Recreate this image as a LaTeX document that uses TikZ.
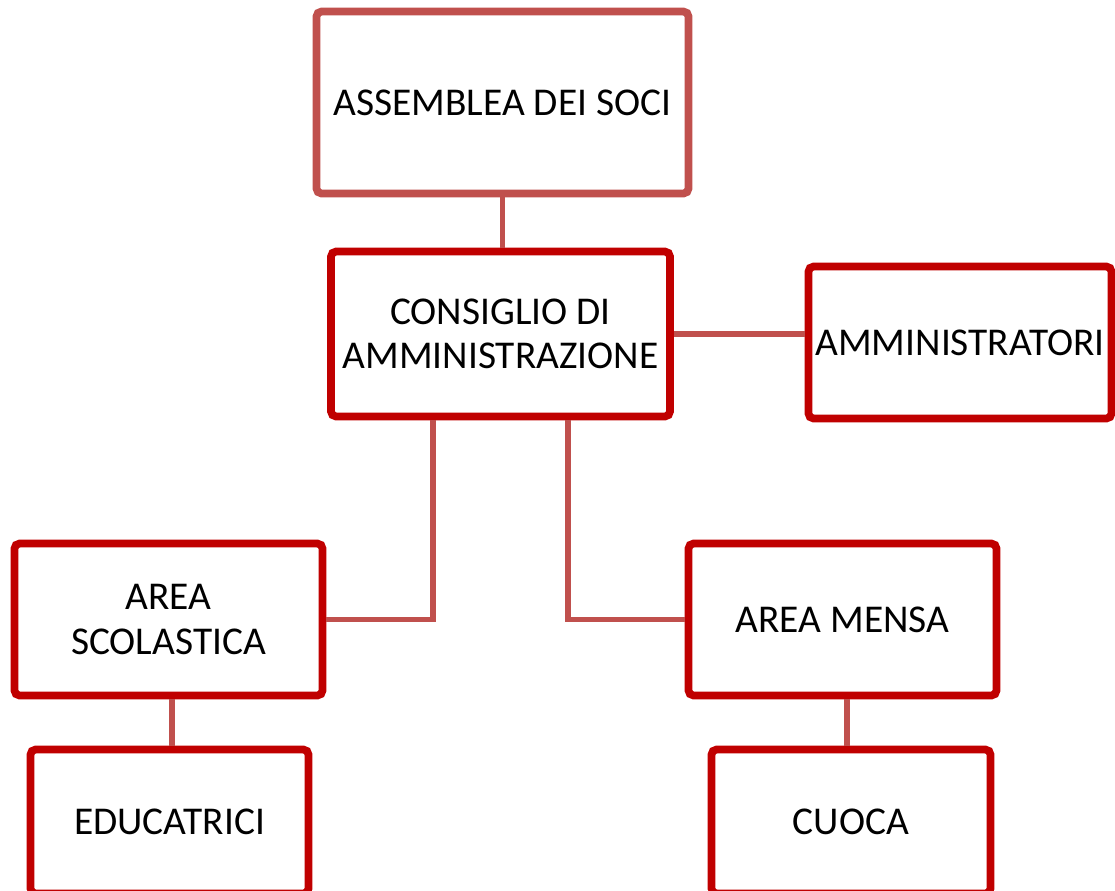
\documentclass[tikz,border=0pt]{standalone}
\usepackage{fontspec}
\setmainfont{Carlito}
\usepackage{tikz}
\usetikzlibrary{positioning}

\definecolor{boxRed}{HTML}{C00000}
\definecolor{lineRed}{HTML}{C0504D}

\begin{document}
\begin{tikzpicture}[
        x=0.01cm, y=-0.01cm,
        orgbox/.style={
          rectangle,
          draw=boxRed,
          line width=2.2pt,
          fill=white,
          align=center,
          rounded corners=1.5pt,
          font=\fontsize{11.2}{12.6}\selectfont
        },
        link/.style={lineRed, line width=1.6pt}
    ]
    \useasboundingbox (0,0) rectangle (1115,890);

    % Define the nodes
    \node[orgbox, draw=lineRed, minimum width=3.72cm, minimum height=1.82cm] (assemblea) at (502.5,102.5) {ASSEMBLEA DEI SOCI};
    \node[orgbox, minimum width=3.38cm, minimum height=1.65cm] (consiglio) at (500.5,334) {CONSIGLIO DI\\AMMINISTRAZIONE};
    \node[orgbox, inner xsep=1pt, minimum width=3.03cm, minimum height=1.52cm] (amministratori) at (960,342.5) {AMMINISTRATORI};
    \node[orgbox, minimum width=3.08cm, minimum height=1.52cm] (areaScolastica) at (168.5,619.5) {AREA\\SCOLASTICA};
    \node[orgbox, minimum width=3.08cm, minimum height=1.52cm] (areaMensa) at (842.5,619.5) {AREA MENSA};
    \node[orgbox, minimum width=2.78cm, minimum height=1.44cm] (educatrici) at (169.5,821.5) {EDUCATRICI};
    \node[orgbox, minimum width=2.79cm, minimum height=1.44cm] (cuoca) at (851,821.5) {CUOCA};

    % Connect the nodes
    \draw[link] (assemblea.south) -- (assemblea.south |- consiglio.north);
    \draw[link] (consiglio.east) -- (consiglio.east -| amministratori.west);
    \draw[link] ([xshift=-0.675cm]consiglio.south) |- (areaScolastica.east);
    \draw[link] ([xshift=0.675cm]consiglio.south) |- (areaMensa.west);
    \draw[link] ([xshift=0.035cm]areaScolastica.south) -- ([xshift=0.035cm]areaScolastica.south |- educatrici.north);
    \draw[link] ([xshift=0.045cm]areaMensa.south) -- ([xshift=0.045cm]areaMensa.south |- cuoca.north);

\end{tikzpicture}
\end{document}
